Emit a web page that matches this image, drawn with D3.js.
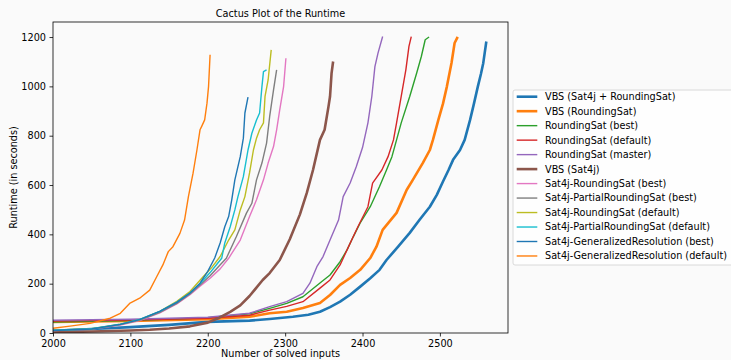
<!DOCTYPE html>
<html>
<head>
<meta charset="utf-8">
<script src="https://cdn.jsdelivr.net/npm/d3@7"></script>
<style>
  body { margin: 0; background: #fafafa; }
  text { font-family: "DejaVu Sans", sans-serif; }
</style>
</head>
<body>
<div id="chart-area"></div>
<script>
// data: [solved inputs, runtime in seconds]
var vbsAll = [[1995,8],[2000,9],[2050,16],[2100,24],[2150,33],[2200,45],[2254,50],[2280,57],[2310,66],[2330,74],[2345,86],[2358,105],[2371,127],[2384,155],[2397,188],[2410,222],[2422,256],[2431,296],[2446,350],[2461,406],[2474,460],[2487,512],[2496,560],[2504,614],[2511,660],[2517,702],[2526,742],[2532,783],[2539,864],[2544,930],[2549,999],[2553,1050],[2556,1094],[2560,1182]];
var vbsRs = [[1995,45],[2000,45],[2100,49],[2200,56],[2254,66],[2280,80],[2302,86],[2323,101],[2345,122],[2358,154],[2371,195],[2384,223],[2397,256],[2410,304],[2418,350],[2426,418],[2444,487],[2457,580],[2465,621],[2478,690],[2487,742],[2491,783],[2498,864],[2504,930],[2509,999],[2515,1095],[2519,1176],[2523,1201]];
var rsBest = [[1995,44],[2000,44],[2100,50],[2200,62],[2254,78],[2280,100],[2302,120],[2323,147],[2345,203],[2358,235],[2371,289],[2380,337],[2388,390],[2397,446],[2410,512],[2422,594],[2431,661],[2438,715],[2444,783],[2450,852],[2461,959],[2470,1054],[2476,1121],[2481,1189],[2486,1200]];
var rsDefault = [[1995,48],[2000,48],[2100,52],[2200,60],[2254,72],[2280,93],[2302,108],[2323,127],[2345,182],[2358,215],[2371,276],[2380,337],[2394,431],[2407,512],[2413,608],[2425,661],[2433,715],[2440,783],[2444,852],[2450,959],[2456,1067],[2460,1162],[2463,1202]];
var rsMaster = [[1995,52],[2000,52],[2100,56],[2200,64],[2254,80],[2280,107],[2302,127],[2323,161],[2332,202],[2341,269],[2349,310],[2358,377],[2369,458],[2375,553],[2384,608],[2392,675],[2400,752],[2407,852],[2412,959],[2416,1080],[2420,1135],[2426,1202]];
var vbsSat4j = [[1995,3],[2000,3],[2050,6],[2100,10],[2125,13],[2150,18],[2177,27],[2200,42],[2215,62],[2229,86],[2242,112],[2254,150],[2271,215],[2280,243],[2293,296],[2306,380],[2319,480],[2328,568],[2336,661],[2345,783],[2351,824],[2356,918],[2358,959],[2360,1054],[2362,1101]];
var s4RsBest = [[1995,9],[2000,10],[2050,16],[2087,32],[2112,50],[2138,82],[2160,118],[2177,155],[2190,190],[2203,222],[2216,260],[2227,303],[2242,377],[2254,472],[2263,540],[2272,621],[2278,689],[2285,756],[2289,824],[2293,905],[2298,999],[2301,1114]];
var s4PrsBest = [[1995,9],[2000,10],[2050,16],[2087,34],[2112,52],[2138,84],[2160,120],[2177,158],[2190,195],[2203,232],[2214,270],[2224,303],[2237,391],[2250,486],[2257,526],[2263,621],[2270,689],[2276,770],[2280,878],[2285,986],[2289,1067]];
var s4RsDefault = [[1995,10],[2000,11],[2050,17],[2087,36],[2112,54],[2138,88],[2160,128],[2177,168],[2194,228],[2205,265],[2216,310],[2227,377],[2235,418],[2242,499],[2248,553],[2254,649],[2259,742],[2263,790],[2267,824],[2272,852],[2274,959],[2278,1026],[2282,1148]];
var s4PrsDefault = [[1995,10],[2000,11],[2050,17],[2087,36],[2112,55],[2138,88],[2160,125],[2177,162],[2190,200],[2203,245],[2212,280],[2218,303],[2222,365],[2229,431],[2235,499],[2239,553],[2246,634],[2252,742],[2257,810],[2263,864],[2267,892],[2270,999],[2272,1060],[2276,1067]];
var s4GrBest = [[1995,9],[2000,10],[2050,16],[2087,35],[2112,54],[2138,88],[2160,124],[2177,162],[2190,202],[2200,250],[2209,304],[2216,365],[2222,431],[2227,472],[2231,540],[2235,621],[2242,715],[2246,790],[2248,892],[2252,956]];
var s4GrDefault = [[1995,18],[2000,19],[2022,28],[2048,39],[2074,60],[2087,80],[2099,120],[2112,141],[2125,174],[2134,228],[2142,276],[2149,330],[2155,350],[2164,404],[2170,458],[2175,553],[2181,648],[2186,742],[2190,824],[2192,837],[2196,864],[2199,932],[2201,999],[2203,1128]];

var seriesNames = ["VBS (Sat4j + RoundingSat)", "VBS (RoundingSat)", "RoundingSat (best)",
	"RoundingSat (default)", "RoundingSat (master)", "VBS (Sat4j)", "Sat4j-RoundingSat (best)",
	"Sat4j-PartialRoundingSat (best)", "Sat4j-RoundingSat (default)",
	"Sat4j-PartialRoundingSat (default)", "Sat4j-GeneralizedResolution (best)",
	"Sat4j-GeneralizedResolution (default)"];
var seriesData = [vbsAll, vbsRs, rsBest, rsDefault, rsMaster, vbsSat4j, s4RsBest,
	s4PrsBest, s4RsDefault, s4PrsDefault, s4GrBest, s4GrDefault];
var xTicks = [2000, 2100, 2200, 2300, 2400, 2500];
var yTicks = [0, 200, 400, 600, 800, 1000, 1200];

// styles
var colors = ["#1f77b4", "#ff7f0e", "#2ca02c", "#d62728", "#9467bd", "#8c564b",
	"#e377c2", "#7f7f7f", "#bcbd22", "#17becf", "#1f77b4", "#ff7f0e"];
var thick = [true, true, false, false, false, true, false, false, false, false, false, false];

var margin = {left:53, right:223, top:22, bottom:27};
var width = 731 - margin.left - margin.right,
	height = 360 - margin.top - margin.bottom;

var svg = d3.select("#chart-area")
	.append("svg")
		.attr("width", 731)
		.attr("height", 360);

svg.append("rect")
	.attr("width", 731)
	.attr("height", 360)
	.attr("fill", "#fafafa");

var g = svg.append("g")
	.attr("transform", "translate(" + margin.left + "," + margin.top + ")");

// scales
var x = d3.scaleLinear()
	.domain([2000, 2588])
	.range([0, width]);
var y = d3.scaleLinear()
	.domain([0, 1261])
	.range([height, 0]);

g.append("clipPath")
	.attr("id", "clip")
	.append("rect")
		.attr("width", width)
		.attr("height", height);

// lines
var line = d3.line()
	.x(function(d){ return x(d[0]); })
	.y(function(d){ return y(d[1]); });

var lines = g.append("g").attr("clip-path", "url(#clip)");
seriesData.forEach(function(data, i){
	lines.append("path")
		.attr("d", line(data))
		.attr("fill", "none")
		.attr("stroke", colors[i])
		.attr("stroke-width", thick[i] ? 2.6 : 1.4)
		.attr("stroke-linejoin", "round");
});

// axes
var xAxisCall = d3.axisBottom(x)
	.tickValues(xTicks)
	.tickFormat(d3.format("d"))
	.tickSize(3.5)
	.tickPadding(3.5);
var xAxis = g.append("g")
	.attr("transform", "translate(0," + height + ")")
	.call(xAxisCall);

var yAxisCall = d3.axisLeft(y)
	.tickValues(yTicks)
	.tickFormat(d3.format("d"))
	.tickSize(3.5)
	.tickPadding(3.5);
var yAxis = g.append("g")
	.call(yAxisCall);

[xAxis, yAxis].forEach(function(a){
	a.select(".domain").remove();
	a.selectAll("line").attr("stroke", "#000").attr("stroke-width", 0.8);
	a.selectAll("text")
		.attr("font-size", "9.7px")
		.attr("font-family", "DejaVu Sans")
		.attr("fill", "#000");
});

g.append("rect")
	.attr("width", width)
	.attr("height", height)
	.attr("fill", "none")
	.attr("stroke", "#000")
	.attr("stroke-width", 0.8);

// labels
g.append("text")
	.attr("x", width / 2)
	.attr("y", -5)
	.attr("font-size", "9.7px")
	.attr("text-anchor", "middle")
	.text("Cactus Plot of the Runtime");

g.append("text")
	.attr("x", width / 2)
	.attr("y", height + 24)
	.attr("font-size", "9.7px")
	.attr("text-anchor", "middle")
	.text("Number of solved inputs");

g.append("text")
	.attr("x", -height / 2)
	.attr("y", -36)
	.attr("transform", "rotate(-90)")
	.attr("font-size", "9.7px")
	.attr("text-anchor", "middle")
	.text("Runtime (in seconds)");

// legend
var legend = svg.append("g")
	.attr("transform", "translate(513,90)");

legend.append("rect")
	.attr("width", 222)
	.attr("height", 175)
	.attr("rx", 2)
	.attr("fill", "#fff")
	.attr("fill-opacity", 0.8)
	.attr("stroke", "#d0d0d0")
	.attr("stroke-width", 0.8);

seriesNames.forEach(function(name, i){
	var row = legend.append("g")
		.attr("transform", "translate(0," + (6.7 + i * 14.48) + ")");
	row.append("line")
		.attr("x1", 3.7)
		.attr("x2", 24.3)
		.attr("stroke", colors[i])
		.attr("stroke-width", thick[i] ? 2.6 : 1.4);
	row.append("text")
		.attr("x", 32)
		.attr("dy", "0.35em")
		.attr("font-size", "9.7px")
		.attr("fill", "#000")
		.text(name);
});
</script>
</body>
</html>
